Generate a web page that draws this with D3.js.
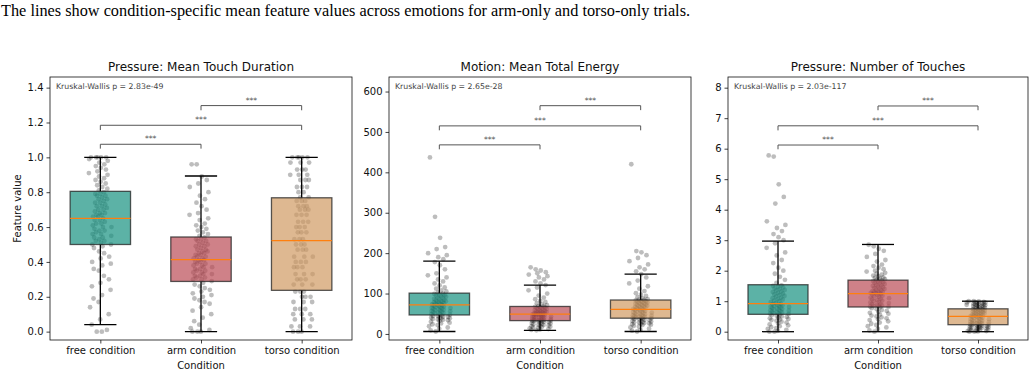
<!DOCTYPE html>
<html>
<head>
<meta charset="utf-8">
<script src="https://cdn.jsdelivr.net/npm/d3@7"></script>
<style>
  body { margin: 0; background: #fff; }
  svg text { font-family: "DejaVu Sans", sans-serif; }
</style>
</head>
<body>
<script>
const conditions = ["free condition", "arm condition", "torso condition"];
const panelTitles = ["Pressure: Mean Touch Duration", "Motion: Mean Total Energy", "Pressure: Number of Touches"];
const kruskalLabels = ["Kruskal-Wallis p = 2.83e-49", "Kruskal-Wallis p = 2.65e-28", "Kruskal-Wallis p = 2.03e-117"];
const captionText = "The lines show condition-specific mean feature values across emotions for arm-only and torso-only trials.";

// box stats per condition: [whisker low, q1, median, q3, whisker high]
const durationBoxes = [[0.04, 0.50, 0.65, 0.805, 1.0], [0.0, 0.288, 0.413, 0.543, 0.893], [0.0, 0.237, 0.522, 0.768, 1.0]];
const energyBoxes = [[6, 47, 72, 101, 180], [9, 33, 49, 68, 121], [6, 39, 61, 84, 148]];
const touchesBoxes = [[0, 0.57, 0.92, 1.54, 2.97], [0, 0.81, 1.25, 1.69, 2.86], [0, 0.23, 0.50, 0.75, 1.0]];

// significance brackets: pair, bracket foot, bracket top
const bracketPairs = [[0, 1], [0, 2], [1, 2]];
const durationBrackets = [[1.05, 1.075], [1.157, 1.184], [1.27, 1.297]];
const energyBrackets = [[457, 468], [504, 515], [554, 565]];
const touchesBrackets = [[5.98, 6.12], [6.60, 6.75], [7.26, 7.40]];

const durationTicks = [0, 0.2, 0.4, 0.6, 0.8, 1.0, 1.2, 1.4];
const energyTicks = [0, 100, 200, 300, 400, 500, 600];
const touchesTicks = [0, 1, 2, 3, 4, 5, 6, 7, 8];

// trial values
const durationFree = [1.0,1.0,1.0,1.0,1.0,0.99,0.98,0.97,0.96,0.95,0.94,0.93,0.92,0.91,0.9,0.89,0.88,0.87,0.86,0.85,0.84,0.83,0.82,0.81,
  0.8,0.79,0.79,0.78,0.78,0.77,0.76,0.76,0.75,0.74,0.74,0.73,0.72,0.72,0.71,0.7,0.7,0.69,0.68,0.68,0.67,0.67,0.66,0.66,
  0.65,0.64,0.64,0.63,0.62,0.62,0.61,0.6,0.6,0.59,0.58,0.58,0.57,0.56,0.56,0.55,0.54,0.54,0.53,0.52,0.52,0.51,0.5,0.5,
  0.49,0.48,0.46,0.45,0.43,0.42,0.4,0.39,0.38,0.36,0.35,0.32,0.3,0.28,0.26,0.24,0.21,0.19,0.17,0.14,0.1,0.07,0.04,0.0,0.0,0.01];
const durationArm = [0.96,0.96,0.89,0.87,0.85,0.83,0.8,0.78,0.76,0.74,0.72,0.7,0.68,0.67,0.65,0.64,0.62,0.61,0.6,0.59,0.58,0.57,0.56,0.55,
  0.54,0.53,0.53,0.52,0.52,0.51,0.5,0.5,0.49,0.49,0.48,0.47,0.47,0.46,0.46,0.45,0.45,0.44,0.44,0.43,0.43,0.42,0.42,0.41,
  0.41,0.4,0.4,0.39,0.39,0.38,0.38,0.37,0.37,0.36,0.36,0.35,0.35,0.34,0.34,0.33,0.33,0.32,0.32,0.31,0.31,0.3,0.3,0.29,
  0.28,0.27,0.26,0.25,0.24,0.23,0.22,0.21,0.2,0.19,0.18,0.17,0.16,0.14,0.12,0.1,0.08,0.06,0.04,0.02,0.01,0.0,0.0,0.0];
const durationTorso = [1.0,1.0,1.0,1.0,1.0,0.97,0.97,0.97,0.93,0.93,0.93,0.9,0.9,0.9,0.87,0.87,0.87,0.83,0.83,0.83,0.8,0.8,0.77,0.77,
  0.75,0.75,0.75,0.72,0.72,0.72,0.7,0.7,0.7,0.67,0.67,0.67,0.63,0.63,0.63,0.6,0.6,0.6,0.57,0.57,0.57,0.53,0.53,0.53,
  0.5,0.5,0.5,0.47,0.47,0.47,0.43,0.43,0.43,0.4,0.4,0.4,0.37,0.37,0.37,0.33,0.33,0.33,0.3,0.3,0.3,0.27,0.27,0.27,
  0.23,0.23,0.23,0.2,0.2,0.2,0.17,0.17,0.17,0.13,0.13,0.13,0.1,0.1,0.1,0.07,0.07,0.07,0.03,0.03,0.03,0.0,0.0,0.0];

const energyFree = [437,290,238,215,210,200,195,190,185,178,170,160,150,145,140,135,130,125,120,115,112,108,105,102,
  100,99,97,96,95,93,92,90,89,87,86,85,83,82,81,80,79,78,77,76,75,74,73,72,
  71,70,69,68,67,66,65,64,63,62,61,60,59,58,57,56,55,54,53,52,51,50,49,48,
  46,45,44,43,42,41,40,39,38,37,36,35,34,32,30,28,26,24,22,19,16,13,9,6];
const energyArm = [165,160,157,153,150,147,143,140,135,130,125,121,115,108,100,95,90,86,82,79,76,73,71,69,
  68,67,66,65,64,63,62,61,60,59,58,57,56,55,54,54,53,52,52,51,50,50,49,49,
  48,48,47,46,46,45,44,43,43,42,41,40,40,39,38,37,37,36,35,35,34,34,33,33,
  32,32,31,30,29,28,27,26,25,24,23,22,21,20,19,18,17,16,15,14,12,11,10,9];
const energyTorso = [420,205,202,195,188,180,172,165,160,155,148,140,132,125,118,112,106,101,97,94,91,88,86,85,
  84,83,82,81,80,79,78,77,76,75,74,73,72,71,70,69,68,67,66,65,64,63,62,61,
  60,59,58,57,56,55,54,53,52,51,50,49,48,47,46,45,44,44,43,42,41,40,40,39,
  38,37,36,35,34,33,32,31,30,29,28,27,26,25,24,23,22,20,18,16,13,10,8,6];

const touchesFree = [5.78,5.74,4.83,4.42,4.2,3.62,3.5,3.4,3.3,3.2,3.1,3.0,2.9,2.75,2.6,2.5,2.35,2.25,2.1,2.0,1.9,1.8,1.7,1.6,
  1.52,1.5,1.47,1.45,1.42,1.4,1.37,1.35,1.32,1.3,1.27,1.25,1.22,1.2,1.17,1.15,1.12,1.1,1.07,1.05,1.02,1.0,0.97,0.94,
  0.91,0.9,0.88,0.87,0.85,0.84,0.82,0.81,0.79,0.78,0.76,0.75,0.73,0.72,0.7,0.69,0.67,0.66,0.64,0.63,0.61,0.6,0.59,0.58,
  0.56,0.54,0.52,0.5,0.48,0.46,0.44,0.42,0.4,0.38,0.36,0.33,0.3,0.27,0.24,0.21,0.18,0.15,0.12,0.09,0.06,0.03,0.0,0.0];
const touchesArm = [2.85,2.8,2.72,2.65,2.55,2.45,2.35,2.3,2.2,2.15,2.1,2.05,2.0,1.97,1.93,1.9,1.87,1.84,1.81,1.78,1.76,1.74,1.72,1.7,
  1.68,1.66,1.64,1.62,1.6,1.58,1.56,1.54,1.52,1.5,1.48,1.46,1.44,1.42,1.4,1.38,1.36,1.34,1.32,1.31,1.3,1.28,1.27,1.26,
  1.24,1.22,1.2,1.18,1.16,1.14,1.12,1.1,1.08,1.06,1.04,1.02,1.0,0.98,0.96,0.94,0.92,0.9,0.88,0.86,0.85,0.84,0.83,0.82,
  0.8,0.77,0.74,0.71,0.68,0.65,0.62,0.59,0.56,0.53,0.5,0.47,0.44,0.41,0.38,0.34,0.3,0.26,0.22,0.18,0.14,0.09,0.04,0.0];
const touchesTorso = [1.0,1.0,0.99,0.98,0.97,0.96,0.95,0.94,0.93,0.92,0.91,0.9,0.89,0.88,0.87,0.86,0.85,0.84,0.83,0.82,0.8,0.79,0.78,0.76,
  0.75,0.74,0.73,0.72,0.71,0.7,0.69,0.68,0.67,0.66,0.65,0.64,0.62,0.61,0.6,0.59,0.58,0.57,0.56,0.55,0.54,0.53,0.52,0.51,
  0.5,0.49,0.48,0.46,0.45,0.44,0.42,0.41,0.4,0.38,0.37,0.36,0.34,0.33,0.32,0.31,0.3,0.29,0.28,0.27,0.26,0.25,0.24,0.23,
  0.22,0.21,0.2,0.19,0.18,0.17,0.16,0.15,0.14,0.13,0.12,0.11,0.1,0.09,0.08,0.07,0.06,0.05,0.04,0.03,0.02,0.01,0.0,0.0];

const boxColors = ["#179180", "#ba4b56", "#d09a62"];

const W = 1036, H = 376;
const TOP = 77, BOTTOM = 340;

const svg = d3.select("body").append("svg")
  .attr("width", W).attr("height", H)
  .style("display", "block");

svg.append("rect").attr("width", W).attr("height", H).attr("fill", "#fff");

svg.append("text")
  .attr("x", 1).attr("y", 16)
  .style("font-family", "'Liberation Serif', 'Times New Roman', serif")
  .style("font-size", "16.3px")
  .attr("fill", "#000")
  .text(captionText);

// deterministic horizontal spread for the strip points
function jitter(i) {
  const a = (i * 0.6180339887) % 1;
  const b = (i * 0.7548776662 + 0.31) % 1;
  return ((a + b) / 2 - 0.5) * 0.27;
}

function drawPanel(p) {
  const x = d3.scaleLinear().domain([-0.5, 2.5]).range([p.left, p.left + p.width]);
  const y = d3.scaleLinear().domain(p.domain).range([BOTTOM, TOP]);
  const g = svg.append("g");

  // strip points
  p.points.forEach((vals, ci) => {
    g.append("g").selectAll("circle")
      .data(vals)
      .join("circle")
      .attr("cx", (d, i) => x(ci + jitter(i)))
      .attr("cy", d => y(d))
      .attr("r", 2.4)
      .attr("fill", "#000")
      .attr("fill-opacity", 0.26);
  });

  // boxes
  const box = g.append("g").selectAll("g")
    .data(p.boxes)
    .join("g");

  box.append("line")
    .attr("x1", (d, i) => x(i)).attr("x2", (d, i) => x(i))
    .attr("y1", d => y(d[0])).attr("y2", d => y(d[1]))
    .attr("stroke", "#000").attr("stroke-width", 1.3);
  box.append("line")
    .attr("x1", (d, i) => x(i)).attr("x2", (d, i) => x(i))
    .attr("y1", d => y(d[3])).attr("y2", d => y(d[4]))
    .attr("stroke", "#000").attr("stroke-width", 1.3);
  box.append("line")
    .attr("x1", (d, i) => x(i - 0.16)).attr("x2", (d, i) => x(i + 0.16))
    .attr("y1", d => y(d[0])).attr("y2", d => y(d[0]))
    .attr("stroke", "#000").attr("stroke-width", 1.3);
  box.append("line")
    .attr("x1", (d, i) => x(i - 0.16)).attr("x2", (d, i) => x(i + 0.16))
    .attr("y1", d => y(d[4])).attr("y2", d => y(d[4]))
    .attr("stroke", "#000").attr("stroke-width", 1.3);

  box.append("rect")
    .attr("x", (d, i) => x(i - 0.3))
    .attr("width", (d, i) => x(i + 0.3) - x(i - 0.3))
    .attr("y", d => y(d[3]))
    .attr("height", d => y(d[1]) - y(d[3]))
    .attr("fill", (d, i) => boxColors[i])
    .attr("fill-opacity", 0.7)
    .attr("stroke", "#222")
    .attr("stroke-opacity", 0.75)
    .attr("stroke-width", 1.3);

  box.append("line")
    .attr("x1", (d, i) => x(i - 0.3)).attr("x2", (d, i) => x(i + 0.3))
    .attr("y1", d => y(d[2])).attr("y2", d => y(d[2]))
    .attr("stroke", "#ff7f0e").attr("stroke-width", 1.2);

  // significance brackets
  const br = g.append("g").selectAll("g")
    .data(p.brackets)
    .join("g");
  br.append("path")
    .attr("d", (d, i) => {
      const [a, b] = bracketPairs[i];
      return d3.line()([[x(a), y(d[0])], [x(a), y(d[1])], [x(b), y(d[1])], [x(b), y(d[0])]]);
    })
    .attr("fill", "none")
    .attr("stroke", "#555")
    .attr("stroke-width", 1);
  br.append("text")
    .attr("x", (d, i) => (x(bracketPairs[i][0]) + x(bracketPairs[i][1])) / 2)
    .attr("y", d => y(d[1]) - 3)
    .attr("text-anchor", "middle")
    .style("font-size", "7.6px")
    .attr("fill", "#555")
    .text("***");

  // axes
  const yAxis = g.append("g")
    .attr("transform", `translate(${p.left},0)`)
    .call(d3.axisLeft(y).tickValues(p.ticks).tickSize(3.5).tickPadding(3).tickFormat(p.fmt));
  const xAxis = g.append("g")
    .attr("transform", `translate(0,${BOTTOM})`)
    .call(d3.axisBottom(x).tickValues([0, 1, 2]).tickSize(3.5).tickPadding(3).tickFormat(i => conditions[i]));
  [yAxis, xAxis].forEach(ax => {
    ax.select(".domain").remove();
    ax.selectAll("text").style("font-size", "10px").style("font-family", "'DejaVu Sans', sans-serif").attr("fill", "#111");
    ax.selectAll("line").attr("stroke", "#111").attr("stroke-width", 0.8);
  });

  g.append("rect")
    .attr("x", p.left).attr("y", TOP)
    .attr("width", p.width).attr("height", BOTTOM - TOP)
    .attr("fill", "none")
    .attr("stroke", "#111")
    .attr("stroke-width", 0.8);

  g.append("text")
    .attr("x", p.left + p.width / 2).attr("y", TOP - 6)
    .attr("text-anchor", "middle")
    .style("font-size", "12px")
    .attr("fill", "#111")
    .text(p.title);

  g.append("text")
    .attr("x", p.left + 6).attr("y", TOP + 12)
    .style("font-size", "7.8px")
    .attr("fill", "#444")
    .text(p.kw);

  g.append("text")
    .attr("x", p.left + p.width / 2).attr("y", 369)
    .attr("text-anchor", "middle")
    .style("font-size", "10px")
    .attr("fill", "#111")
    .text("Condition");

  if (p.ylabel) {
    g.append("text")
      .attr("transform", `translate(21,${(TOP + BOTTOM) / 2}) rotate(-90)`)
      .attr("text-anchor", "middle")
      .style("font-size", "10px")
      .attr("fill", "#111")
      .text(p.ylabel);
  }
}

drawPanel({
  left: 50, width: 302, domain: [-0.048, 1.461],
  title: panelTitles[0], kw: kruskalLabels[0], ylabel: "Feature value",
  boxes: durationBoxes, brackets: durationBrackets,
  points: [durationFree, durationArm, durationTorso],
  ticks: durationTicks, fmt: d3.format(".1f")
});
drawPanel({
  left: 389, width: 302, domain: [-15, 636],
  title: panelTitles[1], kw: kruskalLabels[1],
  boxes: energyBoxes, brackets: energyBrackets,
  points: [energyFree, energyArm, energyTorso],
  ticks: energyTicks, fmt: d3.format("d")
});
drawPanel({
  left: 728, width: 300, domain: [-0.272, 8.35],
  title: panelTitles[2], kw: kruskalLabels[2],
  boxes: touchesBoxes, brackets: touchesBrackets,
  points: [touchesFree, touchesArm, touchesTorso],
  ticks: touchesTicks, fmt: d3.format("d")
});
</script>
</body>
</html>
